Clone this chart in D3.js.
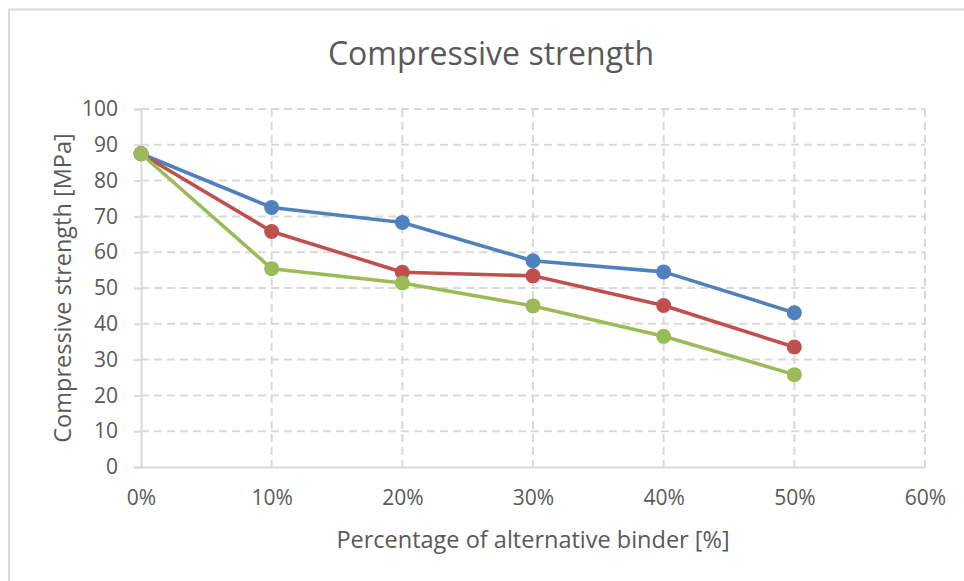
<!DOCTYPE html>
<html>
<head>
<meta charset="utf-8">
<script src="https://cdn.jsdelivr.net/npm/d3@7"></script>
<style>
  html, body { margin: 0; padding: 0; background: #fff; }
  svg { display: block; }
  text { font-family: "Open Sans", "Noto Sans", sans-serif; fill: #595959; }
</style>
</head>
<body>
<svg id="chart" width="964" height="581"></svg>
<script>
// Binder replacement levels (fraction) and compressive strength [MPa]
const binderShare = [0, 0.1, 0.2, 0.3, 0.4, 0.5];
const seriesBlue  = [87.5, 72.5, 68.3, 57.6, 54.5, 43.1];
const seriesRed   = [87.5, 65.8, 54.4, 53.4, 45.1, 33.5];
const seriesGreen = [87.5, 55.4, 51.4, 45.0, 36.5, 25.8];
const xTicks = [0, 0.1, 0.2, 0.3, 0.4, 0.5, 0.6];
const yTicks = [0, 10, 20, 30, 40, 50, 60, 70, 80, 90, 100];

const series = [
  { values: seriesBlue,  color: "#4F81BD" },
  { values: seriesRed,   color: "#C0504D" },
  { values: seriesGreen, color: "#9BBB59" }
];

const svg = d3.select("#chart");
const W = 964, H = 581;
const plot = { left: 141, right: 925, top: 109, bottom: 467 };

// outer chart frame
svg.append("path")
  .attr("d", `M9,${H} V9.5 H${W}`)
  .attr("fill", "none")
  .attr("stroke", "#d9d9d9")
  .attr("stroke-width", 2);

const x = d3.scaleLinear().domain([0, 0.6]).range([plot.left, plot.right]);
const y = d3.scaleLinear().domain([0, 100]).range([plot.bottom, plot.top]);

// dashed gridlines
const grid = svg.append("g").attr("stroke", "#d9d9d9").attr("stroke-width", 2)
  .attr("stroke-dasharray", "8,5");
grid.selectAll("line.h").data(yTicks.filter(d => d > 0)).join("line")
  .attr("x1", plot.left).attr("x2", plot.right)
  .attr("y1", d => y(d)).attr("y2", d => y(d));
grid.selectAll("line.v").data(xTicks.filter(d => d > 0)).join("line")
  .attr("y1", plot.top).attr("y2", plot.bottom)
  .attr("x1", d => x(d)).attr("x2", d => x(d));

// y axis
const yAxis = svg.append("g")
  .attr("transform", `translate(${plot.left},0)`)
  .call(d3.axisLeft(y).tickValues(yTicks).tickSize(7).tickPadding(16));
yAxis.select(".domain").attr("stroke", "#d9d9d9").attr("stroke-width", 2);
yAxis.selectAll(".tick line").attr("stroke", "#d9d9d9").attr("stroke-width", 2);
yAxis.selectAll(".tick text").style("font-size", "21px").attr("fill", "#595959");

// x axis
const xAxis = svg.append("g")
  .attr("transform", `translate(0,${plot.bottom})`)
  .call(d3.axisBottom(x).tickValues(xTicks).tickSize(0).tickPadding(23)
    .tickFormat(d3.format(".0%")));
xAxis.select(".domain").attr("stroke", "#d9d9d9").attr("stroke-width", 2);
xAxis.selectAll(".tick text").style("font-size", "21px").attr("fill", "#595959");

// series lines and markers
const line = d3.line().x((d, i) => x(binderShare[i])).y(d => y(d));
series.forEach(s => {
  svg.append("path")
    .datum(s.values)
    .attr("d", line)
    .attr("fill", "none")
    .attr("stroke", s.color)
    .attr("stroke-width", 3.6)
    .attr("stroke-linejoin", "round");
  svg.append("g").selectAll("circle").data(s.values).join("circle")
    .attr("cx", (d, i) => x(binderShare[i]))
    .attr("cy", d => y(d))
    .attr("r", 7.5)
    .attr("fill", s.color);
});

// titles
svg.append("text")
  .attr("x", 491).attr("y", 65)
  .attr("text-anchor", "middle")
  .style("font-size", "32px")
  .text("Compressive strength");

svg.append("text")
  .attr("x", (plot.left + plot.right) / 2).attr("y", 548)
  .attr("text-anchor", "middle")
  .style("font-size", "23.5px")
  .text("Percentage of alternative binder [%]");

svg.append("text")
  .attr("transform", `translate(71,${(plot.top + plot.bottom) / 2}) rotate(-90)`)
  .attr("text-anchor", "middle")
  .style("font-size", "23.5px")
  .text("Compressive strength [MPa]");
</script>
</body>
</html>
